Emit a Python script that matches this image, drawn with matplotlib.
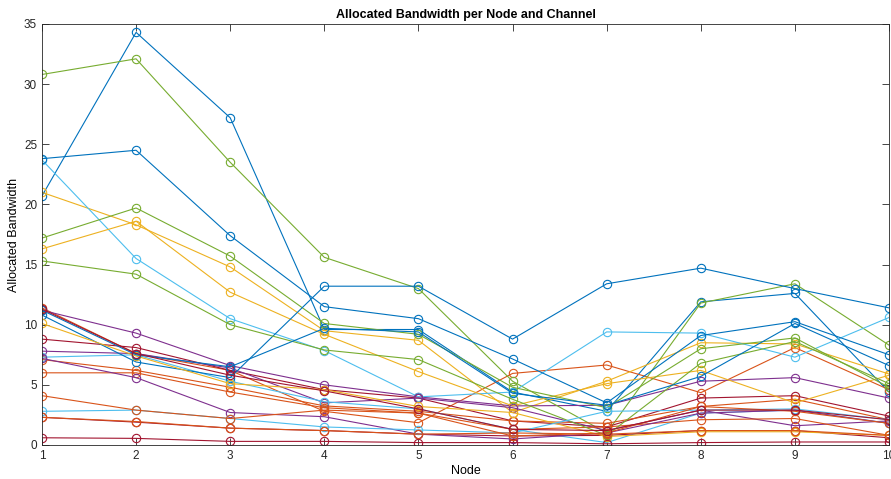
import numpy as np
import matplotlib.pyplot as plt

plt.rcParams['font.family'] = ['Liberation Sans', 'DejaVu Sans']

nodes = np.arange(1, 11)

# MATLAB default colour order
B, O, Y, P, G, L, R = ["#0072BD", "#D95319", "#EDB120", "#7E2F8E",
                       "#77AC30", "#4DBEEE", "#A2142F"]

blue_1 = [20.7, 34.3, 27.2, 9.6, 9.6, 4.4, 2.8, 11.9, 12.6, 4.4]
blue_2 = [23.8, 24.5, 17.4, 11.5, 10.5, 7.15, 3.5, 9.1, 10.25, 7.5]
blue_3 = [10.8, 6.9, 5.6, 13.2, 13.2, 8.8, 13.4, 14.7, 13.0, 11.4]
blue_4 = [11.2, 7.5, 6.5, 9.7, 9.4, 4.3, 3.3, 5.7, 10.1, 6.6]

lblue_1 = [23.7, 15.5, 10.5, 7.85, 4.0, 4.4, 9.4, 9.3, 7.3, 10.6]
lblue_2 = [7.3, 7.5, 5.3, 3.6, 3.0, 1.3, 0.2, 2.65, 2.9, 1.8]
lblue_3 = [2.8, 2.9, 2.2, 1.5, 1.25, 1.0, 2.8, 2.9, 3.0, 2.1]

green_1 = [30.8, 32.1, 23.5, 15.6, 13.0, 5.3, 1.0, 11.8, 13.4, 8.3]
green_2 = [17.2, 19.7, 15.7, 10.1, 9.2, 4.8, 3.1, 8.0, 8.9, 4.8]
green_3 = [15.3, 14.2, 10.0, 7.9, 7.1, 3.8, 0.8, 6.8, 8.6, 5.1]

yellow_1 = [21.0, 18.3, 14.8, 9.5, 8.7, 2.7, 5.3, 8.5, 8.4, 5.9]
yellow_2 = [16.3, 18.6, 12.7, 9.2, 6.1, 3.25, 5.1, 6.2, 3.5, 5.8]
yellow_3 = [10.1, 7.4, 5.1, 4.6, 3.2, 2.7, 0.7, 1.1, 1.1, 0.8]

purple_1 = [11.2, 9.3, 6.6, 5.0, 4.0, 3.25, 3.3, 5.3, 5.6, 3.9]
purple_2 = [7.8, 7.6, 6.4, 3.5, 3.9, 3.1, 1.2, 2.9, 1.6, 2.0]
purple_3 = [7.2, 5.6, 2.7, 2.35, 0.9, 0.5, 1.0, 2.65, 2.9, 1.8]

orange_1 = [11.4, 7.6, 6.2, 2.8, 1.85, 5.95, 6.65, 4.35, 8.1, 4.6]
orange_2 = [7.1, 6.2, 4.8, 3.25, 2.8, 2.0, 1.8, 3.2, 3.8, 2.1]
orange_3 = [6.0, 6.0, 4.4, 3.1, 2.65, 1.3, 1.5, 2.1, 2.2, 0.8]
orange_4 = [4.1, 2.9, 2.2, 2.9, 2.65, 0.75, 1.0, 3.2, 2.8, 1.8]
orange_5 = [2.3, 1.95, 1.4, 1.2, 0.9, 1.0, 0.9, 1.2, 1.2, 0.8]

red_1 = [8.8, 8.1, 6.2, 4.6, 3.9, 2.0, 1.5, 3.9, 4.1, 2.4]
red_2 = [2.3, 1.9, 1.4, 1.2, 0.9, 0.75, 0.8, 1.2, 1.2, 0.6]
red_3 = [0.6, 0.55, 0.3, 0.3, 0.2, 0.2, 0.1, 0.2, 0.25, 0.25]
red_4 = [11.3, 7.6, 5.8, 4.5, 3.0, 1.3, 1.2, 2.9, 2.9, 2.1]

series = [
    (blue_1, B), (orange_1, O), (yellow_1, Y), (purple_1, P), (green_1, G),
    (lblue_1, L), (red_1, R), (blue_2, B), (orange_2, O), (yellow_2, Y),
    (purple_2, P), (green_2, G), (lblue_2, L), (red_2, R), (blue_3, B),
    (orange_3, O), (yellow_3, Y), (purple_3, P), (green_3, G), (lblue_3, L),
    (red_3, R), (blue_4, B), (orange_4, O), (orange_5, O), (red_4, R),
]

fig = plt.figure(figsize=(8.91, 4.79), dpi=100)
ax = fig.add_axes([0.0471, 0.071, 0.9507, 0.879])

for values, color in series:
    ax.plot(nodes, values, marker='o', markersize=6, markerfacecolor='none',
            color=color, linewidth=0.8, markeredgewidth=0.8)

ax.set_xlim(1, 10)
ax.set_ylim(0, 35)
ax.set_xticks(nodes)
ax.set_yticks(np.arange(0, 36, 5))
ax.tick_params(direction='in', top=True, right=True, labelsize=8.5,
               colors='#262626', length=5, width=0.6)
for s in ax.spines.values():
    s.set_color('#262626')
    s.set_linewidth(0.6)

ax.set_title("Allocated Bandwidth per Node and Channel", fontsize=9,
             fontweight='bold', pad=4)
ax.set_xlabel("Node", fontsize=9, labelpad=2)
ax.set_ylabel("Allocated Bandwidth", fontsize=9, labelpad=3)

fig.savefig("out.png", dpi=100)
